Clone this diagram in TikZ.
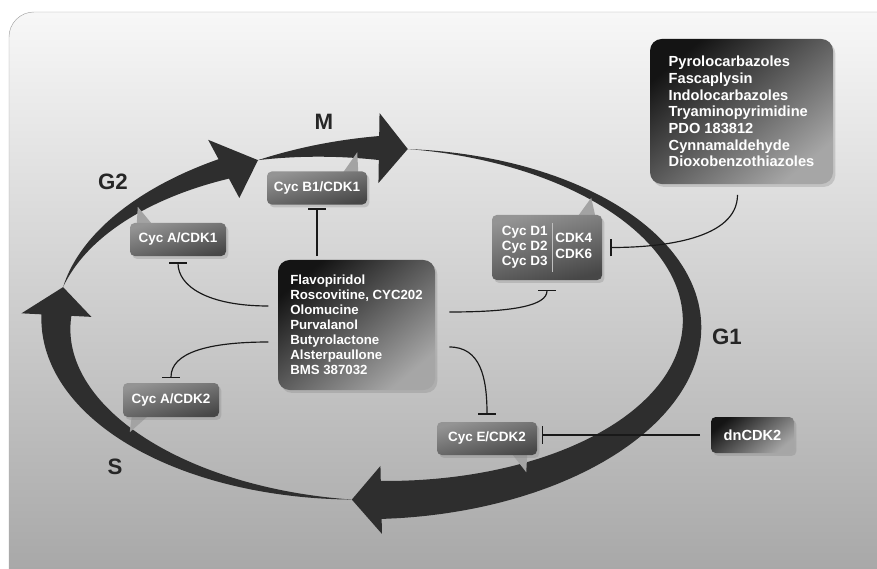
\documentclass[tikz,border=0pt]{standalone}
\usepackage{fontspec}
\setmainfont{Liberation Sans}
\usetikzlibrary{arrows.meta,shadows,calc,positioning}
\pgfdeclarelayer{bg}
\pgfdeclarelayer{zipfel}
\pgfsetlayers{bg,zipfel,main}

\newcommand{\ringx}{374}
\newcommand{\ringy}{324}
\newcommand{\ringa}{318}
\newcommand{\ringb}{176}
\newcommand{\ringpfeil}[5]{%
  \fill[ring] plot[smooth,domain=#1:#2,samples=50,variable=\t]
    ({\ringx+(\ringa+0.5*(#4)*(\t-(#1))/((#2)-(#1)))*cos(\t)},{\ringy+(\ringb+0.5*(#4)*(\t-(#1))/((#2)-(#1)))*sin(\t)})
    -- ({\ringx+(\ringa+(#5))*cos(#2)},{\ringy+(\ringb+(#5))*sin(#2)})
    -- ({\ringx+\ringa*cos(#3)},{\ringy+\ringb*sin(#3)})
    -- ({\ringx+(\ringa-(#5))*cos(#2)},{\ringy+(\ringb-(#5))*sin(#2)})
    -- plot[smooth,domain=#2:#1,samples=50,variable=\t]
    ({\ringx+(\ringa-0.5*(#4)*(\t-(#1))/((#2)-(#1)))*cos(\t)},{\ringy+(\ringb-0.5*(#4)*(\t-(#1))/((#2)-(#1)))*sin(\t)})
    -- cycle;}

\begin{document}
\begin{tikzpicture}[x=0.03cm,y=-0.03cm,
  ring/.style={fill=black!82},
  phase/.style={font=\fontsize{19}{19}\selectfont\bfseries,text=black!85},
  box/.style={rectangle,rounded corners=4pt,text=white,align=left,inner sep=0pt,
    drop shadow={shadow xshift=2pt,shadow yshift=-2.5pt,opacity=0.3}},
  drug/.style={box,rounded corners=10pt,top color=black!92,bottom color=black!35,shading angle=40},
  enzym/.style={box,top color=black!42,bottom color=black!72,shading angle=15,
    font=\fontsize{11.5}{13.2}\selectfont\bfseries},
  zipfel/.style={fill=black!36},
  hemm/.style={-{Bar[width=15pt,line width=1.3pt]},line width=1pt,black!90}]

\useasboundingbox (0,0) rectangle (877,569);

\begin{pgfonlayer}{bg}
\clip (0,0) rectangle (877,569);
\shade[top color=white!97!black,bottom color=white!62!black,draw=black!35,rounded corners=0.75cm]
  (9,640) -- (9,12) -- (940,12) -- (940,640) -- cycle;
\ringpfeil{-83.9}{88.7}{94}{38}{34}
\ringpfeil{94}{182.9}{192.1}{30}{35}
\ringpfeil{192.1}{241.8}{248.6}{22}{33}
\ringpfeil{248.6}{270.9}{276.1}{24}{35}
\end{pgfonlayer}

\node[phase] (m) at (324,122) {M};
\node[phase] (g2) at (113,182) {G2};
\node[phase] (g1) at (727,337) {G1};
\node[phase] (s) at (115,467) {S};

\node[drug,minimum width=4.71cm,minimum height=3.9cm,font=\fontsize{11.3}{12.8}\selectfont\bfseries] (hemmer) at (356.5,325)
  {Flavopiridol\\Roscovitine, CYC202\\Olomucine\\Purvalanol\\Butyrolactone\\Alsterpaullone\\BMS 387032};
\node[drug,minimum width=5.49cm,minimum height=4.35cm,font=\fontsize{12.5}{14.2}\selectfont\bfseries] (pyro) at (741.5,111.5)
  {Pyrolocarbazoles\\Fascaplysin\\Indolocarbazoles\\Tryaminopyrimidine\\PDO 183812\\Cynnamaldehyde\\Dioxobenzothiazoles};
\node[drug,rounded corners=4pt,minimum width=2.49cm,minimum height=1.08cm,font=\fontsize{12.5}{14}\selectfont\bfseries] (dn) at (752.5,435) {dnCDK2};

\node[enzym,minimum width=3cm,minimum height=0.99cm] (b1) at (317,188) {Cyc B1/CDK1};
\node[enzym,minimum width=2.88cm,minimum height=0.99cm] (a1) at (178,239.5) {Cyc A/CDK1};
\node[enzym,minimum width=2.88cm,minimum height=1.02cm] (a2) at (171,400) {Cyc A/CDK2};
\node[enzym,minimum width=3cm,minimum height=0.99cm] (e2) at (487,438.5) {Cyc E/CDK2};
\node[enzym,minimum width=3.3cm,minimum height=1.95cm] (d) at (547,247.5)
  {\begin{tabular}{@{}l@{}}Cyc D1\\Cyc D2\\Cyc D3\end{tabular}\hspace{3.5pt}{\color{black!25}\rule[-17.6pt]{0.6pt}{41pt}}\hspace{2.5pt}\begin{tabular}{@{}l@{}}CDK4\\CDK6\end{tabular}};

\begin{pgfonlayer}{zipfel}
\fill[zipfel] ($(b1.north east)+(-24,1)$) -- ($(b1.north east)+(-10,-19)$) -- ($(b1.north east)+(-9,1)$) -- cycle;
\fill[zipfel] ($(a1.north west)+(7,1)$) -- ($(a1.north west)+(8,-16)$) -- ($(a1.north west)+(22,1)$) -- cycle;
\fill[zipfel] ($(a2.south west)+(9,-1)$) -- ($(a2.south west)+(7,15)$) -- ($(a2.south west)+(25,-1)$) -- cycle;
\fill[zipfel] ($(e2.south east)+(-25,-1)$) -- ($(e2.south east)+(-11,17)$) -- ($(e2.south east)+(-10,-1)$) -- cycle;
\fill[zipfel] ($(d.north east)+(-24,1)$) -- ($(d.north east)+(-11,-17)$) -- ($(d.north east)+(-7,1)$) -- cycle;
\end{pgfonlayer}

\draw[hemm,shorten <=3pt,shorten >=3pt] (b1.south |- hemmer.north) -- (b1.south);
\draw[hemm,shorten <=8pt,shorten >=5pt] ($(hemmer.west)+(0,-19)$) .. controls +(-70,0) and +(0,30) .. (a1.south);
\draw[hemm,shorten <=8pt,shorten >=4pt] ($(hemmer.west)+(0,17)$) .. controls +(-70,0) and +(0,-30) .. (a2.north);
\draw[hemm,shorten <=12pt,shorten >=8pt] ($(hemmer.east)+(0,-13)$) .. controls +(80,0) and +(0,25) .. (d.south);
\draw[hemm,shorten <=12pt,shorten >=6pt] ($(hemmer.east)+(0,22)$) .. controls +(45,0) and +(0,-45) .. (e2.north);
\draw[hemm,shorten <=9pt,shorten >=7pt] ($(pyro.south)+(-4,0)$) .. controls +(0,55) and +(60,0) .. (d.east);
\draw[hemm,shorten <=9pt,shorten >=4pt] (dn.west) -- (dn.west -| e2.east);

\end{tikzpicture}
\end{document}
